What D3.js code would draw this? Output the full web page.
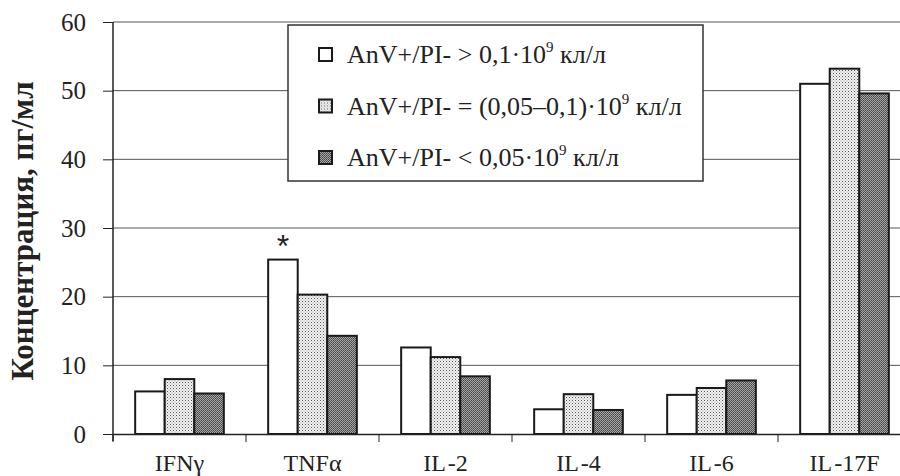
<!DOCTYPE html>
<html>
<head>
<meta charset="utf-8">
<script src="https://cdn.jsdelivr.net/npm/d3@7"></script>
<style>
  body { margin: 0; background: #fff; }
  svg { display: block; }
  text { font-family: "Liberation Serif", "DejaVu Serif", serif; fill: #222; }
</style>
</head>
<body>
<div class="chart"></div>
<script>
// data
var categories = ["IFNγ", "TNFα", "IL-2", "IL-4", "IL-6", "IL-17F"];
var seriesHigh = [6.2, 25.4, 12.6, 3.6, 5.7, 51.0];   // > 0,1
var seriesMid  = [8.0, 20.3, 11.2, 5.8, 6.7, 53.2];   // 0,05-0,1
var seriesLow  = [5.9, 14.3, 8.4, 3.5, 7.8, 49.6];    // < 0,05
var yTicks = [0, 10, 20, 30, 40, 50, 60];
var legendBase = ["AnV+/PI- > 0,1·10", "AnV+/PI- = (0,05–0,1)·10", "AnV+/PI- < 0,05·10"];
var legendSup = ["9", "9", "9"];
var legendTail = [" кл/л", " кл/л", " кл/л"];
var starred = [{ cat: "TNFα", series: 0 }];

var W = 900, H = 476;
var margin = { top: 22, right: -11, bottom: 42, left: 113 },
    width = W - margin.left - margin.right,
    height = H - margin.top - margin.bottom;

var svg = d3.select(".chart").append("svg")
    .attr("width", W)
    .attr("height", H);

// fill patterns
var defs = svg.append("defs");
var p1 = defs.append("pattern")
    .attr("id", "dots").attr("patternUnits", "userSpaceOnUse")
    .attr("width", 3).attr("height", 3);
p1.append("rect").attr("width", 3).attr("height", 3).attr("fill", "#f2f2f2");
p1.append("rect").attr("width", 1).attr("height", 1).attr("fill", "#555");
p1.append("rect").attr("x", 1.5).attr("y", 1.5).attr("width", 1).attr("height", 1).attr("fill", "#999");

var p2 = defs.append("pattern")
    .attr("id", "dark").attr("patternUnits", "userSpaceOnUse")
    .attr("width", 2).attr("height", 2);
p2.append("rect").attr("width", 2).attr("height", 2).attr("fill", "#a8a8a8");
p2.append("rect").attr("width", 1).attr("height", 1).attr("fill", "#444");
p2.append("rect").attr("x", 1).attr("y", 1).attr("width", 1).attr("height", 1).attr("fill", "#555");

var fills = ["#fff", "url(#dots)", "url(#dark)"];
var series = [seriesHigh, seriesMid, seriesLow];

var g = svg.append("g")
    .attr("transform", "translate(" + margin.left + "," + margin.top + ")");

var x0 = d3.scaleBand().domain(categories).range([0, width]).padding(0);
var x1 = d3.scaleBand().domain([0, 1, 2]).range([0, x0.bandwidth()])
    .paddingInner(0).paddingOuter(0.75);
var y = d3.scaleLinear().domain([0, 60]).range([height, 0]);

// gridlines
g.selectAll(".grid")
    .data(yTicks.filter(function (d) { return d > 0; }))
    .enter().append("line")
    .attr("x1", 0).attr("x2", width)
    .attr("y1", function (d) { return y(d); })
    .attr("y2", function (d) { return y(d); })
    .attr("stroke", "#555").attr("stroke-width", 1);

// bars
var rows = [];
categories.forEach(function (c, i) {
    series.forEach(function (s, j) {
        rows.push({ cat: c, series: j, value: s[i] });
    });
});

g.selectAll(".bar")
    .data(rows)
    .enter().append("rect")
    .attr("class", "bar")
    .attr("x", function (d) { return x0(d.cat) + x1(d.series); })
    .attr("width", x1.bandwidth())
    .attr("y", function (d) { return y(d.value); })
    .attr("height", function (d) { return height - y(d.value); })
    .attr("fill", function (d) { return fills[d.series]; })
    .attr("stroke", "#1a1a1a")
    .attr("stroke-width", 2);

// significance mark
g.selectAll(".star")
    .data(starred)
    .enter().append("text")
    .attr("x", function (d) { return x0(d.cat) + x1(d.series) + x1.bandwidth() / 2; })
    .attr("y", function (d) { return y(series[d.series][categories.indexOf(d.cat)]) - 3; })
    .attr("text-anchor", "middle")
    .style("font-family", "'Liberation Sans', Arial, sans-serif")
    .style("font-size", "32px")
    .text("*");

// y axis
var yAxis = g.append("g")
    .attr("class", "yAxis")
    .call(d3.axisLeft(y).tickValues(yTicks).tickSize(10).tickPadding(17));
yAxis.select(".domain").attr("stroke", "#222").attr("stroke-width", 1.5)
    .attr("d", "M0," + (height + 7) + "V0");
yAxis.selectAll(".tick line").attr("stroke", "#222");
yAxis.selectAll("text").style("font-size", "25px").attr("fill", "#333")
    .style("font-family", "'Liberation Serif', serif");

// x axis
var xAxis = g.append("g")
    .attr("class", "xAxis")
    .attr("transform", "translate(0," + height + ")")
    .call(d3.axisBottom(x0).tickSize(0).tickPadding(20));
xAxis.select(".domain").attr("stroke", "#222").attr("stroke-width", 1.5);
xAxis.selectAll("text")
    .style("font-size", "24px").attr("fill", "#333")
    .style("font-family", "'Liberation Serif', serif")
    .text(null)
    .each(function (d) {
        // small gap before the hyphen, like the original
        var parts = d.split("-");
        var el = d3.select(this);
        parts.forEach(function (p, k) {
            if (k > 0) el.append("tspan").attr("dx", 2).text("-");
            el.append("tspan").text(p);
        });
    });
xAxis.selectAll(".sep")
    .data(categories)
    .enter().append("line")
    .attr("x1", function (d) { return x0(d); })
    .attr("x2", function (d) { return x0(d); })
    .attr("y1", 0).attr("y2", 8)
    .attr("stroke", "#222");

// y title
svg.append("text")
    .attr("transform", "translate(33,231) rotate(-90)")
    .attr("text-anchor", "middle")
    .style("font-size", "31px")
    .style("font-weight", "bold")
    .text("Концентрация, пг/мл");

// legend
var leg = svg.append("g").attr("transform", "translate(288,25)");
leg.append("rect")
    .attr("width", 415).attr("height", 156)
    .attr("fill", "#fff").attr("stroke", "#333").attr("stroke-width", 1.5);

var items = leg.selectAll(".item")
    .data(legendBase)
    .enter().append("g")
    .attr("transform", function (d, i) { return "translate(0," + (29 + i * 51.5) + ")"; });

items.append("rect")
    .attr("x", 31).attr("y", -6)
    .attr("width", 13).attr("height", 13)
    .attr("fill", function (d, i) { return fills[i]; })
    .attr("stroke", "#1a1a1a").attr("stroke-width", 2);

var t = items.append("text")
    .attr("x", 59).attr("y", 9)
    .style("font-size", "26px");
t.append("tspan").text(function (d) { return d; });
t.append("tspan")
    .attr("dy", -11)
    .style("font-size", "15px")
    .text(function (d, i) { return legendSup[i]; });
t.append("tspan")
    .attr("dy", 11)
    .text(function (d, i) { return legendTail[i]; });
</script>
</body>
</html>
